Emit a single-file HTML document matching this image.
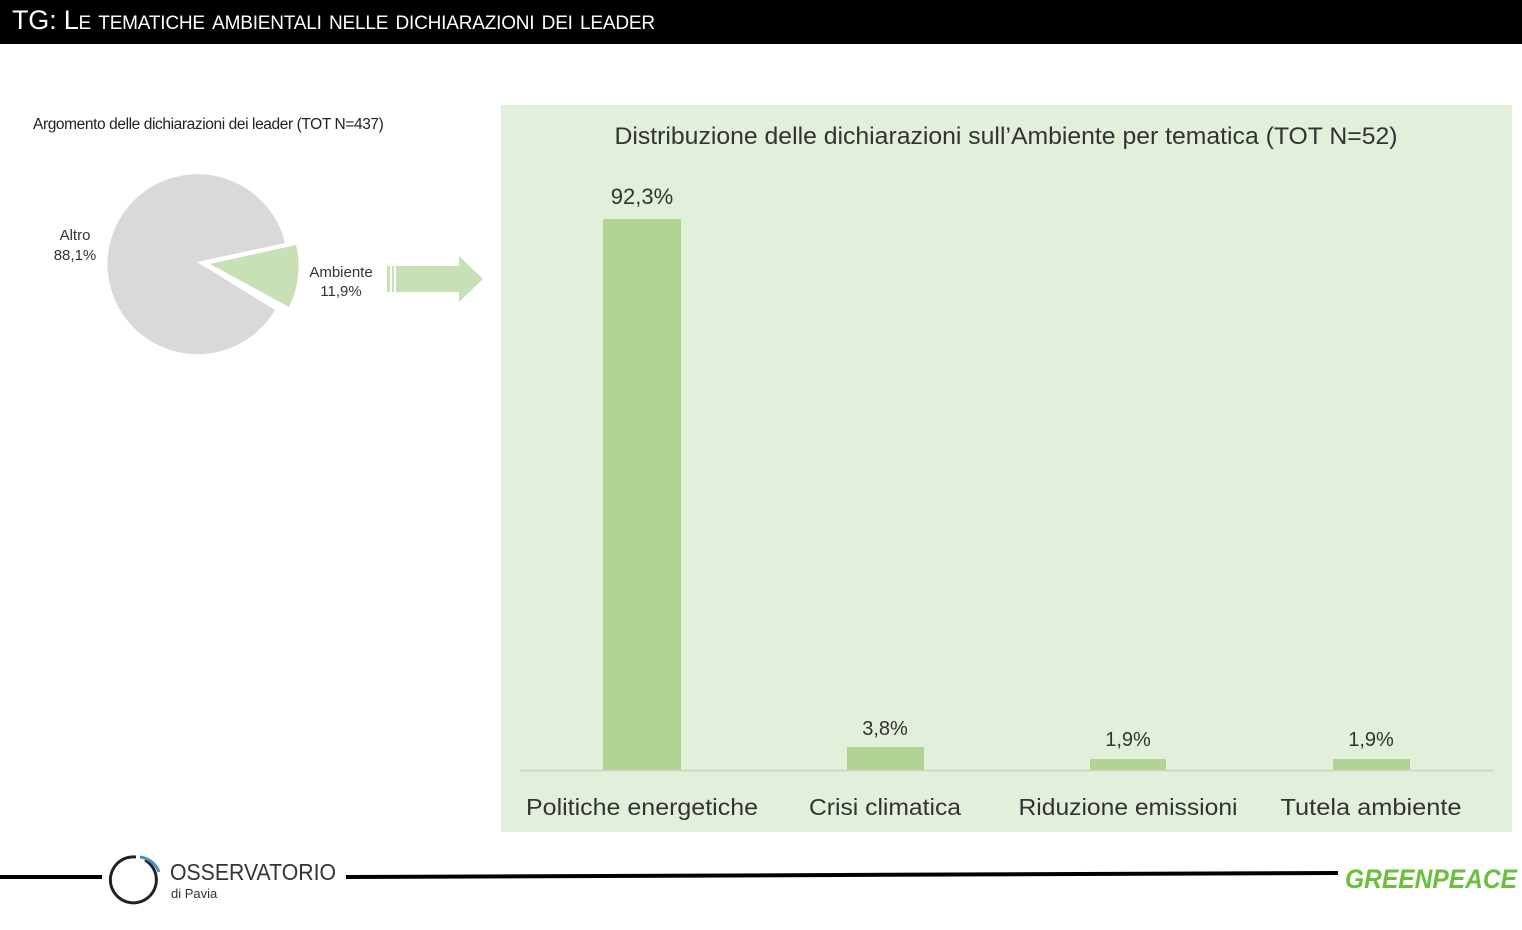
<!DOCTYPE html>
<html><head><meta charset="utf-8"><style>
body{margin:0;width:1522px;height:930px;background:#fff;position:relative;overflow:hidden;font-family:"Liberation Sans",sans-serif}
.a{position:absolute}
</style></head><body>
<div class="a" style="left:0;top:0;width:1522px;height:44px;background:#000"></div>
<div class="a" style="left:12px;top:5px;color:#fff;font-size:27px;font-variant:small-caps;letter-spacing:-0.2px;white-space:nowrap">TG: Le tematiche ambientali nelle dichiarazioni dei leader</div>
<div class="a" style="left:33px;top:116px;font-size:15.5px;color:#222;letter-spacing:-0.4px;white-space:nowrap">Argomento delle dichiarazioni dei leader (TOT N=437)</div>
<svg class="a" style="left:0;top:0" width="1522" height="930">
<path d="M197,262 L285,243 A90,90 0 1 0 275,310 Z" fill="#d9d9d9"/>
<path d="M210,264 L296,245 A90,90 0 0 1 289,307 Z" fill="#c8e0b5" />
<rect x="387" y="266" width="3" height="26" fill="#c8e0b5"/>
<rect x="392" y="266" width="2" height="26" fill="#c8e0b5"/>
<path d="M396,266 H459 V256 L483,279 L459,302 V292 H396 Z" fill="#c8e0b5"/>
<rect x="501" y="105" width="1011" height="727" fill="#e2efda"/>
<rect x="603" y="219" width="78" height="551" fill="#b3d395"/>
<rect x="847" y="747" width="77" height="23" fill="#b3d395"/>
<rect x="1090" y="759" width="76" height="11" fill="#b3d395"/>
<rect x="1333" y="759" width="77" height="11" fill="#b3d395"/>
<line x1="520" y1="770.5" x2="1493" y2="770.5" stroke="#c8d4c0" stroke-width="1.5"/>
<line x1="0" y1="877" x2="102" y2="877" stroke="#000" stroke-width="4"/>
<line x1="346" y1="877" x2="1338" y2="873" stroke="#000" stroke-width="4"/>
<path d="M145,860 A23,23 0 1 1 136,857" fill="none" stroke="#222" stroke-width="3"/>
<path d="M140,857 A23,23 0 0 1 159,872" fill="none" stroke="#4a90c8" stroke-width="3"/>
<g font-family="Liberation Sans,sans-serif" fill="#333" text-anchor="middle">
<text x="75" y="240" font-size="15">Altro</text>
<text x="75" y="260" font-size="15">88,1%</text>
<text x="341" y="277" font-size="15">Ambiente</text>
<text x="341" y="296" font-size="15">11,9%</text>
<text x="1006" y="144" font-size="24" textLength="783" lengthAdjust="spacingAndGlyphs">Distribuzione delle dichiarazioni sull’Ambiente per tematica (TOT N=52)</text>
<text x="642" y="204" font-size="22">92,3%</text>
<text x="885" y="735" font-size="20">3,8%</text>
<text x="1128" y="746" font-size="20">1,9%</text>
<text x="1371" y="746" font-size="20">1,9%</text>
<text x="642" y="815" font-size="23" textLength="232" lengthAdjust="spacingAndGlyphs">Politiche energetiche</text>
<text x="885" y="815" font-size="23" textLength="152" lengthAdjust="spacingAndGlyphs">Crisi climatica</text>
<text x="1128" y="815" font-size="23" textLength="219" lengthAdjust="spacingAndGlyphs">Riduzione emissioni</text>
<text x="1371" y="815" font-size="23" textLength="181" lengthAdjust="spacingAndGlyphs">Tutela ambiente</text>
</g>
<text x="170" y="880" font-family="Liberation Sans,sans-serif" font-size="23" fill="#333" textLength="166" lengthAdjust="spacingAndGlyphs">OSSERVATORIO</text>
<text x="171" y="898" font-family="Liberation Sans,sans-serif" font-size="13" fill="#333">di Pavia</text>
<text x="1345" y="888" font-family="Liberation Sans,sans-serif" font-size="27" font-weight="bold" font-style="italic" fill="#6abf3c" textLength="172" lengthAdjust="spacingAndGlyphs">GREENPEACE</text>
</svg>
</body></html>
